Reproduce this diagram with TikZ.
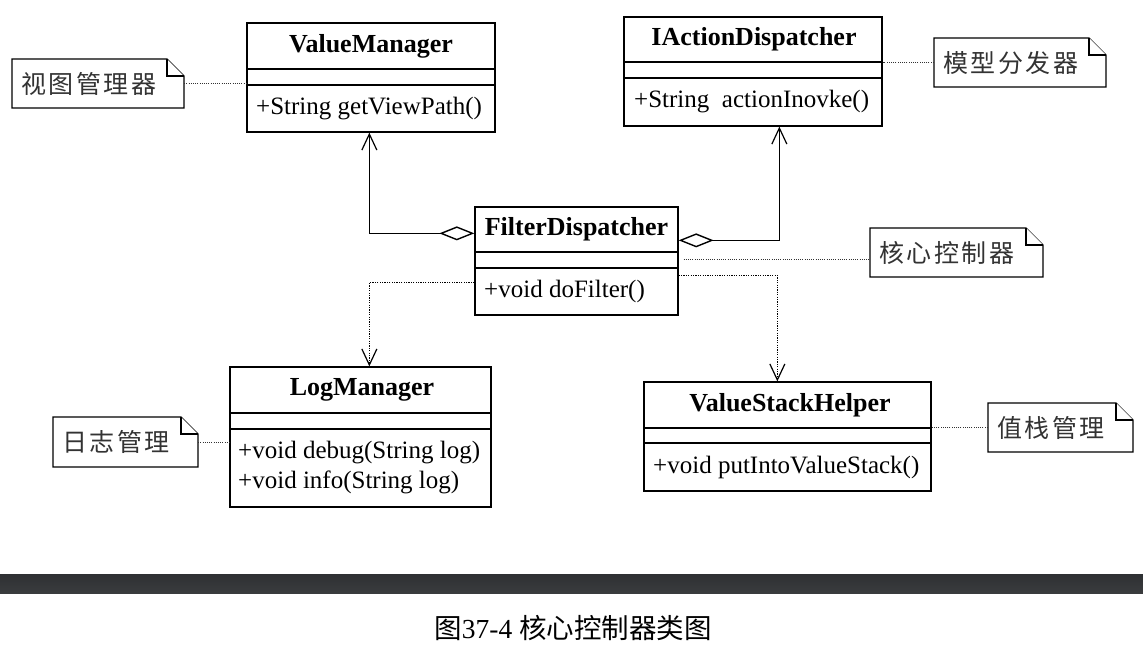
\documentclass[tikz,border=0pt]{standalone}
\usepackage{fontspec}
\setmainfont{Liberation Serif}
\newfontfamily\cjk{Noto Sans CJK SC}
\newfontfamily\cjknote[LetterSpace=10]{Noto Sans CJK SC}
\usetikzlibrary{arrows.meta,calc}
\newcommand\mknote[6]{%
  \draw[notestyle] (#2,#3) -- ({#4-17},#3) -- (#4,{#3+17}) -- (#4,#5) -- (#2,#5) -- cycle;
  \draw[notestyle] ({#4-17},#3) -- ({#4-17},{#3+17}) -- (#4,{#3+17});
  \node[inner sep=0, minimum width={(#4-#2)*1pt}, minimum height={(#5-#3)*1pt}] (#1) at ({(#2+#4)/2},{(#3+#5)/2}) {};
  \node[notetext, anchor=west] (#1t) at ($(#1.west)+(9,0)$) {#6};
}
\begin{document}
\begin{tikzpicture}[x=1pt,y=-1pt,
  box/.style={draw, line width=1.3pt, inner sep=0, fill=white},
  sep/.style={line width=1.3pt},
  ttl/.style={font=\fontsize{26}{30}\selectfont\bfseries, inner sep=0},
  mth/.style={font=\fontsize{25}{29}\selectfont, inner sep=0, anchor=west},
  notestyle/.style={line width=1.3pt, fill=white, line join=miter},
  notetext/.style={font=\cjknote\fontsize{25}{29}\selectfont, text=black!80, inner sep=0},
  notelink/.style={line width=1pt, dash pattern=on 1pt off 1.2pt, black!80},
  dep/.style={line width=1.1pt, dash pattern=on 1.2pt off 1.2pt, -{Straight Barb[length=16pt,width=15pt,line width=1.2pt]}},
  agg/.style={line width=1.2pt, {Diamond[open,length=35pt,width=14pt,line width=1.4pt]}-{Straight Barb[length=16pt,width=15pt,line width=1.2pt]}},
]
\useasboundingbox (0,0) rectangle (1143,654);
\fill[white] (0,0) rectangle (1143,654);

% ValueManager
\node[box, minimum width=248pt, minimum height=109pt] (vm) at (371,77.5) {};
\draw[sep] (247,69) -- (495,69);
\draw[sep] (247,85) -- (495,85);
\node[ttl] (vmt) at (371,46) {ValueManager};
\node[mth] (vmm) at (256,108.5) {+String getViewPath()};

% IActionDispatcher
\node[box, minimum width=258pt, minimum height=109pt] (iad) at (753,71.5) {};
\draw[sep] (624,62) -- (882,62);
\draw[sep] (624,78) -- (882,78);
\node[ttl] (iadt) at (754,39.5) {IActionDispatcher};
\node[mth] (iadm) at (634,102) {+String\ \ actionInovke()};

% FilterDispatcher
\node[box, minimum width=203pt, minimum height=108pt] (fd) at (576.5,261) {};
\draw[sep] (475,252) -- (678,252);
\draw[sep] (475,268) -- (678,268);
\node[ttl] (fdt) at (576.5,229.5) {FilterDispatcher};
\node[mth] (fdm) at (484,291.5) {+void doFilter()};

% LogManager
\node[box, minimum width=261pt, minimum height=140pt] (lm) at (360.5,437) {};
\draw[sep] (230,413) -- (491,413);
\draw[sep] (230,429) -- (491,429);
\node[ttl] (lmt) at (362,390) {LogManager};
\node[mth] (lmm1) at (238,453) {+void debug(String log)};
\node[mth] (lmm2) at (238,482) {+void info(String log)};

% ValueStackHelper
\node[box, minimum width=287pt, minimum height=109pt] (vsh) at (787.5,436.5) {};
\draw[sep] (644,428) -- (931,428);
\draw[sep] (644,443) -- (931,443);
\node[ttl] (vsht) at (790,405) {ValueStackHelper};
\node[mth] (vshm) at (653,467) {+void putIntoValueStack()};

% notes
\mknote{n1}{12}{59}{184}{108}{视图管理器}
\mknote{n2}{934}{38}{1106}{87}{模型分发器}
\mknote{n3}{870}{228}{1043}{277}{核心控制器}
\mknote{n4}{53}{417}{198}{467}{日志管理}
\mknote{n5}{988}{403}{1133}{452}{值栈管理}

% note links
\draw[notelink] (n1.east) -- (n1.east -| vm.west);
\draw[notelink] (n2.west) -- (n2.west -| iad.east);
\coordinate (c3) at ($(fd.east)+(5,-2)$);
\draw[notelink] (c3) -- (c3 -| n3.west);
\draw[notelink] (n4.east) -- (n4.east -| lm.west);
\draw[notelink] (n5.west) -- (n5.west -| vsh.east);

% aggregations
\coordinate (p1) at ($(fd.north west)+(0,27)$);
\draw[agg] (p1) -| ($(vm.south west)+(123,0)$);
\coordinate (p2) at ($(fd.north east)+(0,34)$);
\draw[agg] (p2) -| ($(iad.south west)+(156,0)$);

% dependencies
\coordinate (p3) at ($(fd.north west)+(0,76)$);
\draw[dep] (p3) -| ($(lm.north west)+(140,0)$);
\coordinate (p4) at ($(fd.north east)+(0,69)$);
\draw[dep] (p4) -| ($(vsh.north west)+(134,0)$);

% bar and caption
\shade[top color={rgb,255:red,46;green,48;blue,51}, middle color={rgb,255:red,92;green,95;blue,98}, bottom color={rgb,255:red,58;green,60;blue,62}] (0,574) rectangle (1143,593);
\node[font=\fontsize{27.5}{32}\selectfont, inner sep=0] (cap) at (573,628) {{\cjk 图}37-4 {\cjk 核心控制器类图}};
\end{tikzpicture}
\end{document}
